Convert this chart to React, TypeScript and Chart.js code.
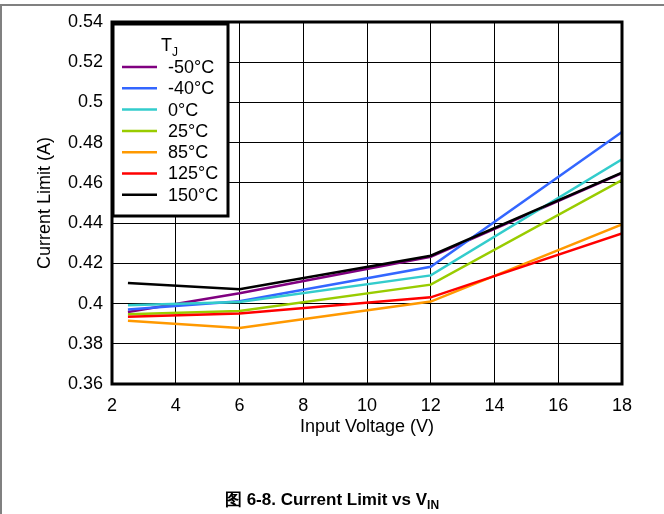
import React, { useEffect, useRef } from "react";
import { Chart, registerables } from "chart.js";

Chart.register(...registerables);

const voltages = [2.5, 6, 12, 18];
const seriesLabels = ["-50°C", "-40°C", "0°C", "25°C", "85°C", "125°C", "150°C"];
const seriesColors = ["#800080", "#3366ff", "#33cccc", "#99cc00", "#ff9900", "#ff0000", "#000000"];
const tjMinus50 = [0.3958, 0.4051, 0.4233, 0.4648];
const tjMinus40 = [0.3971, 0.4012, 0.4183, 0.4853];
const tj0 = [0.3991, 0.4008, 0.414, 0.4717];
const tj25 = [0.3947, 0.3963, 0.4094, 0.4614];
const tj85 = [0.3915, 0.3878, 0.401, 0.4394];
const tj125 = [0.3935, 0.3951, 0.4031, 0.4349];
const tj150 = [0.4102, 0.4071, 0.4238, 0.4651];
const seriesValues = [tjMinus50, tjMinus40, tj0, tj25, tj85, tj125, tj150];

const FONT = "'Liberation Sans', Arial, Helvetica, sans-serif";

const frameAndLegend = {
  id: "frameAndLegend",
  afterDraw(chart: any) {
    const { ctx, chartArea } = chart;
    ctx.save();
    // plot frame
    ctx.strokeStyle = "#000";
    ctx.lineWidth = 3;
    ctx.strokeRect(chartArea.left, chartArea.top, chartArea.right - chartArea.left, chartArea.bottom - chartArea.top);
    // legend box
    const bx = chartArea.left + 1;
    const by = chartArea.top + 2;
    const bw = 115;
    const bh = 192;
    ctx.fillStyle = "#fff";
    ctx.fillRect(bx, by, bw, bh);
    ctx.lineWidth = 3;
    ctx.strokeRect(bx, by, bw, bh);
    // title T_J
    ctx.fillStyle = "#000";
    ctx.textBaseline = "middle";
    ctx.textAlign = "left";
    ctx.font = `18px ${FONT}`;
    ctx.fillText("T", bx + 48, by + 22);
    ctx.font = `12px ${FONT}`;
    ctx.fillText("J", bx + 59, by + 29);
    ctx.font = `18px ${FONT}`;
    chart.data.datasets.forEach((ds: any, i: number) => {
      const y = by + 43 + i * 21.3;
      ctx.strokeStyle = ds.borderColor;
      ctx.lineWidth = 2.5;
      ctx.beginPath();
      ctx.moveTo(bx + 9, y);
      ctx.lineTo(bx + 44, y);
      ctx.stroke();
      ctx.fillStyle = "#000";
      ctx.fillText(ds.label, bx + 55, y + 1);
    });
    ctx.restore();
  },
};

export default function App() {
  const canvasRef = useRef<HTMLCanvasElement>(null);

  useEffect(() => {
    const canvas = canvasRef.current;
    if (!canvas) return;
    const datasets = seriesLabels.map((label, i) => ({
      label,
      data: voltages.map((v, j) => ({ x: v, y: seriesValues[i][j] })),
      borderColor: seriesColors[i],
      backgroundColor: seriesColors[i],
      borderWidth: 2.5,
      pointRadius: 0,
      tension: 0,
      fill: false,
      order: seriesLabels.length - i,
    }));
    const chart = new Chart(canvas, {
      type: "line",
      data: { datasets },
      options: {
        responsive: false,
        animation: false,
        layout: { padding: { left: 0, top: 22, right: 42, bottom: 70 } },
        plugins: { legend: { display: false }, tooltip: { enabled: false } },
        scales: {
          x: {
            type: "linear",
            min: 2,
            max: 18,
            afterFit: (s: any) => {
              s.height = 60;
            },
            ticks: {
              stepSize: 2,
              padding: 11,
              color: "#000",
              font: { family: FONT, size: 18 },
            },
            grid: { color: "#000", lineWidth: 1, drawTicks: false },
            border: { display: false },
            title: {
              display: true,
              text: "Input Voltage (V)",
              color: "#000",
              font: { family: FONT, size: 18 },
              padding: { top: 0, bottom: 6 },
            },
          },
          y: {
            type: "linear",
            min: 0.36,
            max: 0.54,
            afterFit: (s: any) => {
              s.width = 112;
            },
            ticks: {
              stepSize: 0.02,
              padding: 9,
              color: "#000",
              font: { family: FONT, size: 18 },
              callback: (v: any) => String(Number(Number(v).toFixed(2))),
            },
            grid: { color: "#000", lineWidth: 1, drawTicks: false },
            border: { display: false },
            title: {
              display: true,
              text: "Current Limit (A)",
              color: "#000",
              font: { family: FONT, size: 18 },
              padding: { top: 34, bottom: 0 },
            },
          },
        },
      },
      plugins: [frameAndLegend],
    });
    return () => chart.destroy();
  }, []);

  return (
    <div style={{ position: "fixed", left: 0, top: 0, width: 664, height: 514, background: "#fff", overflow: "hidden" }}>
      <canvas ref={canvasRef} width={664} height={514} style={{ position: "absolute", left: 0, top: 0 }} />
      <div style={{ position: "absolute", left: 0, top: 4, width: 664, height: 2, background: "#808080" }} />
      <div style={{ position: "absolute", left: 0, top: 4, width: 2, height: 510, background: "#808080" }} />
      <div
        style={{
          position: "absolute",
          left: 0,
          width: 664,
          top: 490,
          textAlign: "center",
          fontFamily: FONT,
          fontWeight: "bold",
          fontSize: 17,
          color: "#000",
          lineHeight: "20px",
        }}
      >
        图 6-8. Current Limit vs V<sub style={{ fontSize: 12, verticalAlign: "-4px", lineHeight: 0 }}>IN</sub>
      </div>
    </div>
  );
}
